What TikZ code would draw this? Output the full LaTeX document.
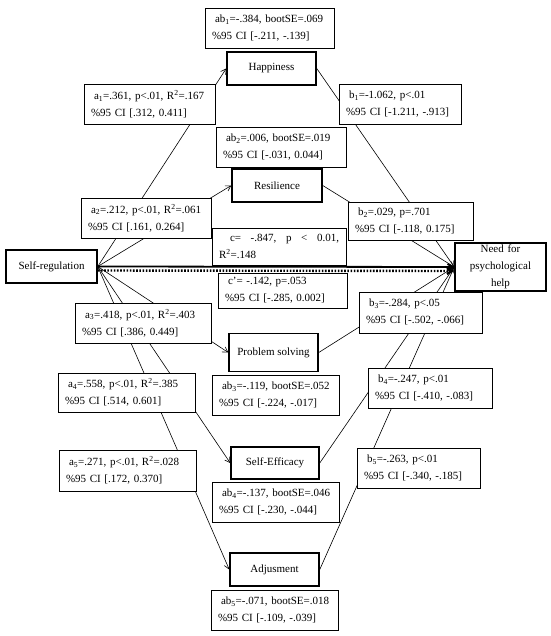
\documentclass[tikz,border=0pt]{standalone}
\usepackage{fontspec}
\setmainfont{Liberation Serif}
\usetikzlibrary{arrows.meta}
\tikzset{>={Straight Barb[length=5pt,width=6pt]}}
\tikzset{var/.style={draw,line width=1.5pt,fill=white,inner sep=0pt,minimum width=89pt,minimum height=33pt,align=center}}
\tikzset{lab/.style={draw,line width=0.6pt,fill=white,inner xsep=7pt,inner ysep=0pt,minimum height=40pt,text width=#1,align=left}}
\tikzset{arr/.style={->,line width=0.6pt}}

\begin{document}
\begin{tikzpicture}[x=1pt,y=-1pt,every node/.style={font=\fontsize{11pt}{17pt}\selectfont}]
                    \useasboundingbox (0,0) rectangle (550,636);

                    \node[var,minimum width=91pt] (SR) at (51.5,266.5) {Self-regulation};
                    \node[var] (H) at (271.5,68.5) {Happiness};
                    \node[var,minimum width=90pt] (R) at (277,185.5) {Resilience};
                    \node[var,minimum height=38pt] (PS) at (273.5,352.5) {Problem solving};
                    \node[var,minimum width=88pt,minimum height=32pt] (SE) at (275,463) {Self-Efficacy};
                    \node[var] (AD) at (274.5,569.5) {Adjusment};
                    \node[var,minimum width=91pt,minimum height=48pt,text width=86pt] (N) at (500.5,267) {Need for\\psychological\\help};

                    \draw[arr] (SR.east) -- (H.west);
                    \draw[arr] (SR.east) -- (R.west);
                    \draw[arr] (SR.east) -- (PS.west);
                    \draw[arr] (SR.east) -- (SE.west);
                    \draw[arr] (SR.east) -- (AD.west);
                    \draw[arr] (H.east) -- (N.west);
                    \draw[arr] (R.east) -- (N.west);
                    \draw[arr] (PS.east) -- (N.west);
                    \draw[arr] (SE.east) -- (N.west);
                    \draw[arr] (AD.east) -- (N.west);
                    \draw[->,line width=1.8pt] (SR.east) -- (N.west);
                    \draw[->,line width=2.4pt,dash pattern=on 1.6pt off 1.6pt] ([yshift=-4pt]SR.east) -- ([yshift=-4pt]N.west);

                    \node[lab=115pt] (ab1) at (269.5,28.5) {\hspace*{3pt}ab\textsubscript{1}=-.384, bootSE=.069\\\%95 CI [-.211, -.139]};
                    \node[lab=117pt] (a1) at (149.5,104.5) {\hspace*{3pt}a\textsubscript{1}=.361, p<.01, R\textsuperscript{2}=.167\\\%95 CI [.312, 0.411]};
                    \node[lab=108pt] (b1) at (400,104.5) {\hspace*{3pt}b\textsubscript{1}=-1.062, p<.01\\\%95 CI [-1.211, -.913]};
                    \node[lab=116pt] (ab2) at (281,147) {\hspace*{3pt}ab\textsubscript{2}=.006, bootSE=.019\\\%95 CI [-.031, 0.044]};
                    \node[lab=116pt] (a2) at (146,218) {\hspace*{3pt}a\textsubscript{2}=.212, p<.01, R\textsuperscript{2}=.061\\\%95 CI [.161, 0.264]};
                    \node[lab=111pt,minimum height=38pt] (b2) at (410.5,221) {\hspace*{3pt}b\textsubscript{2}=.029, p=.701\\\%95 CI [-.118, 0.175]};
                    \node[lab=120pt,minimum height=37pt] (c) at (279,246.5) {\hspace*{11pt}c=\hfill-.847,\hfill p\hfill<\hfill0.01,\\R\textsuperscript{2}=.148};
                    \node[lab=115pt,minimum height=35pt] (cp) at (282.5,290.5) {\hspace*{3pt}c'= -.142, p=.053\\\%95 CI [-.285, 0.002]};
                    \node[lab=122pt] (a3) at (143,323) {\hspace*{3pt}a\textsubscript{3}=.418, p<.01, R\textsuperscript{2}=.403\\\%95 CI [.386, 0.449]};
                    \node[lab=109pt,minimum height=41pt] (b3) at (420.5,312.5) {\hspace*{3pt}b\textsubscript{3}=-.284, p<.05\\\%95 CI [-.502, -.066]};
                    \node[lab=113pt] (ab3) at (275.5,395) {\hspace*{3pt}ab\textsubscript{3}=-.119, bootSE=.052\\\%95 CI [-.224, -.017]};
                    \node[lab=123pt,minimum height=39pt] (a4) at (126.5,392.5) {\hspace*{3pt}a\textsubscript{4}=.558, p<.01, R\textsuperscript{2}=.385\\\%95 CI [.514, 0.601]};
                    \node[lab=110pt] (b4) at (430,388) {\hspace*{3pt}b\textsubscript{4}=-.247, p<.01\\\%95 CI [-.410, -.083]};
                    \node[lab=123pt,minimum height=41pt] (a5) at (127.5,470.5) {\hspace*{3pt}a\textsubscript{5}=.271, p<.01, R\textsuperscript{2}=.028\\\%95 CI [.172, 0.370]};
                    \node[lab=109pt] (b5) at (418.5,468) {\hspace*{3pt}b\textsubscript{5}=-.263, p<.01\\\%95 CI [-.340, -.185]};
                    \node[lab=113pt] (ab4) at (275.5,502) {\hspace*{3pt}ab\textsubscript{4}=-.137, bootSE=.046\\\%95 CI [-.230, -.044]};
                    \node[lab=113pt] (ab5) at (274.5,610) {\hspace*{3pt}ab\textsubscript{5}=-.071, bootSE=.018\\\%95 CI [-.109, -.039]};
                \end{tikzpicture}
\end{document}
